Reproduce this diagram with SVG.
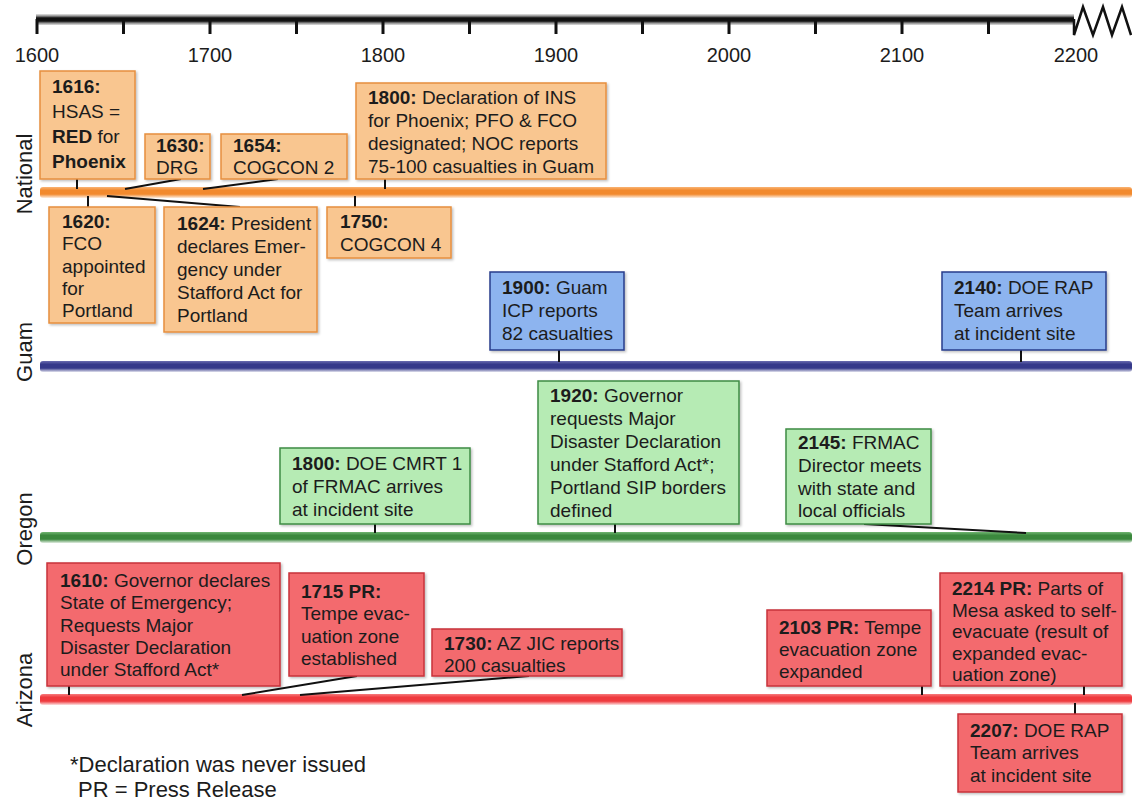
<svg xmlns="http://www.w3.org/2000/svg" width="1132" height="802" viewBox="0 0 1132 802">
<style>
.t{font-family:"Liberation Sans",Arial,Helvetica,sans-serif;font-size:19px;fill:#1c1c1c}
.b{font-weight:bold}
.ax{font-family:"Liberation Sans",Arial,Helvetica,sans-serif;font-size:20px;fill:#1c1c1c;text-anchor:middle}
.lane{font-family:"Liberation Sans",Arial,Helvetica,sans-serif;font-size:22px;fill:#1c1c1c;text-anchor:middle}
.fn{font-family:"Liberation Sans",Arial,Helvetica,sans-serif;font-size:22px;fill:#1c1c1c}
.nat rect{fill:#f9c690;stroke:#e68f3e;stroke-width:1.5}
.gu rect{fill:#8db4ef;stroke:#283c8c;stroke-width:1.5}
.or rect{fill:#b6ebb4;stroke:#3e8c45;stroke-width:1.5}
.az rect{fill:#f36a6e;stroke:#c8323a;stroke-width:1.5}
.box rect{filter:url(#sh)}
.con line{stroke:#111;stroke-width:2}
</style>
<defs>
<filter id="sh" x="-5%" y="-5%" width="115%" height="120%"><feDropShadow dx="1.5" dy="1.5" stdDeviation="1.2" flood-color="#000" flood-opacity="0.25"/></filter>
<linearGradient id="gAx" x1="0" y1="0" x2="0" y2="1"><stop offset="0" stop-color="#999" stop-opacity=".3"/><stop offset=".35" stop-color="#111"/><stop offset=".65" stop-color="#111"/><stop offset="1" stop-color="#888" stop-opacity=".3"/></linearGradient>
<linearGradient id="gN" x1="0" y1="0" x2="0" y2="1"><stop offset="0" stop-color="#f9b374"/><stop offset=".3" stop-color="#f28a2e"/><stop offset=".65" stop-color="#f28a2e"/><stop offset="1" stop-color="#f28a2e" stop-opacity=".15"/></linearGradient>
<linearGradient id="gG" x1="0" y1="0" x2="0" y2="1"><stop offset="0" stop-color="#6a6cb0"/><stop offset=".3" stop-color="#35398a"/><stop offset=".65" stop-color="#35398a"/><stop offset="1" stop-color="#35398a" stop-opacity=".15"/></linearGradient>
<linearGradient id="gO" x1="0" y1="0" x2="0" y2="1"><stop offset="0" stop-color="#72b672"/><stop offset=".3" stop-color="#3b883d"/><stop offset=".65" stop-color="#3b883d"/><stop offset="1" stop-color="#3b883d" stop-opacity=".15"/></linearGradient>
<linearGradient id="gA" x1="0" y1="0" x2="0" y2="1"><stop offset="0" stop-color="#f77a7c"/><stop offset=".3" stop-color="#ef3a3e"/><stop offset=".65" stop-color="#ef3a3e"/><stop offset="1" stop-color="#ef3a3e" stop-opacity=".15"/></linearGradient>
</defs>
<rect width="1132" height="802" fill="#ffffff"/>

<g id="axis">
<rect x="36" y="14" width="1038" height="11" fill="url(#gAx)"/>
<g stroke="#111" stroke-width="3">
<line x1="37" y1="19" x2="37" y2="34"/><line x1="123.5" y1="19" x2="123.5" y2="34"/><line x1="210" y1="19" x2="210" y2="34"/><line x1="296.5" y1="19" x2="296.5" y2="34"/><line x1="383" y1="19" x2="383" y2="34"/><line x1="469.5" y1="19" x2="469.5" y2="34"/><line x1="556" y1="19" x2="556" y2="34"/><line x1="642.5" y1="19" x2="642.5" y2="34"/><line x1="729" y1="19" x2="729" y2="34"/><line x1="815.5" y1="19" x2="815.5" y2="34"/><line x1="902" y1="19" x2="902" y2="34"/><line x1="988.5" y1="19" x2="988.5" y2="34"/>
</g>
<polyline points="1074,19 1074,35 1083,7 1093,35 1103,7 1112,35 1122,7 1131,35" fill="none" stroke="#111" stroke-width="2.5" stroke-linejoin="miter"/>
<text class="ax" x="37" y="62">1600</text><text class="ax" x="210" y="62">1700</text><text class="ax" x="383" y="62">1800</text><text class="ax" x="556" y="62">1900</text><text class="ax" x="729" y="62">2000</text><text class="ax" x="902" y="62">2100</text><text class="ax" x="1076" y="62">2200</text>
</g>

<g id="lanes">
<rect x="40" y="187" width="1092" height="11" rx="3" fill="url(#gN)"/>
<rect x="40" y="361" width="1092" height="11" rx="3" fill="url(#gG)"/>
<rect x="40" y="532" width="1092" height="11" rx="3" fill="url(#gO)"/>
<rect x="40" y="694" width="1092" height="11" rx="3" fill="url(#gA)"/>
<text class="lane" transform="translate(32,174) rotate(-90)">National</text>
<text class="lane" transform="translate(32,352) rotate(-90)">Guam</text>
<text class="lane" transform="translate(32,529) rotate(-90)">Oregon</text>
<text class="lane" transform="translate(32,690) rotate(-90)">Arizona</text>
</g>

<g id="connectors" class="con">
<line x1="77" y1="179" x2="77" y2="189"/>
<line x1="181" y1="179" x2="125" y2="189"/>
<line x1="278" y1="179" x2="203" y2="189"/>
<line x1="385" y1="179" x2="385" y2="189"/>
<line x1="88" y1="196" x2="88" y2="207"/>
<line x1="107" y1="196" x2="240" y2="207"/>
<line x1="355" y1="196" x2="355" y2="207"/>
<line x1="559" y1="350" x2="559" y2="362"/>
<line x1="1021" y1="350" x2="1021" y2="362"/>
<line x1="375" y1="524" x2="375" y2="533"/>
<line x1="615" y1="524" x2="615" y2="533"/>
<line x1="864" y1="524" x2="1026" y2="533"/>
<line x1="69" y1="686" x2="69" y2="695"/>
<line x1="357" y1="676" x2="242" y2="695"/>
<line x1="529" y1="676" x2="300" y2="695"/>
<line x1="922" y1="686" x2="922" y2="695"/>
<line x1="1084" y1="686" x2="1084" y2="695"/>
<line x1="1075" y1="703" x2="1075" y2="714"/>
</g>

<g id="n1616" class="box nat"><rect x="40" y="71" width="95" height="108"/>
<text class="t"><tspan x="52" y="93" class="b">1616:</tspan><tspan x="52" y="118">HSAS =</tspan><tspan x="52" y="143"><tspan class="b">RED</tspan> for</tspan><tspan x="52" y="168" class="b">Phoenix</tspan></text></g>
<g id="n1630" class="box nat"><rect x="145" y="134" width="65" height="45"/>
<text class="t"><tspan x="156" y="152" class="b">1630:</tspan><tspan x="156" y="174">DRG</tspan></text></g>
<g id="n1654" class="box nat"><rect x="221" y="134" width="126" height="45"/>
<text class="t"><tspan x="233" y="152" class="b">1654:</tspan><tspan x="233" y="174">COGCON 2</tspan></text></g>
<g id="n1800" class="box nat"><rect x="356" y="83" width="250" height="96"/>
<text class="t"><tspan x="368" y="104"><tspan class="b">1800:</tspan> Declaration of INS</tspan><tspan x="368" y="127">for Phoenix; PFO &amp; FCO</tspan><tspan x="368" y="150">designated; NOC reports</tspan><tspan x="368" y="173">75-100 casualties in Guam</tspan></text></g>
<g id="n1620" class="box nat"><rect x="49" y="207" width="106" height="116"/>
<text class="t"><tspan x="62" y="228" class="b">1620:</tspan><tspan x="62" y="250">FCO</tspan><tspan x="62" y="273">appointed</tspan><tspan x="62" y="295">for</tspan><tspan x="62" y="317">Portland</tspan></text></g>
<g id="n1624" class="box nat"><rect x="164" y="207" width="153" height="125"/>
<text class="t"><tspan x="177" y="230"><tspan class="b">1624:</tspan> President</tspan><tspan x="177" y="253">declares Emer-</tspan><tspan x="177" y="276">gency under</tspan><tspan x="177" y="299">Stafford Act for</tspan><tspan x="177" y="322">Portland</tspan></text></g>
<g id="n1750" class="box nat"><rect x="327" y="207" width="124" height="51"/>
<text class="t"><tspan x="340" y="228" class="b">1750:</tspan><tspan x="340" y="251">COGCON 4</tspan></text></g>

<g id="g1900" class="box gu"><rect x="490" y="272" width="134" height="78"/>
<text class="t"><tspan x="502" y="294"><tspan class="b">1900:</tspan> Guam</tspan><tspan x="502" y="317">ICP reports</tspan><tspan x="502" y="340">82 casualties</tspan></text></g>
<g id="g2140" class="box gu"><rect x="942" y="272" width="164" height="78"/>
<text class="t"><tspan x="954" y="294"><tspan class="b">2140:</tspan> DOE RAP</tspan><tspan x="954" y="317">Team arrives</tspan><tspan x="954" y="340">at incident site</tspan></text></g>

<g id="o1800" class="box or"><rect x="280" y="448" width="190" height="76"/>
<text class="t"><tspan x="292" y="470"><tspan class="b">1800:</tspan> DOE CMRT 1</tspan><tspan x="292" y="493">of FRMAC arrives</tspan><tspan x="292" y="516">at incident site</tspan></text></g>
<g id="o1920" class="box or"><rect x="538" y="381" width="201" height="143"/>
<text class="t"><tspan x="550" y="402"><tspan class="b">1920:</tspan> Governor</tspan><tspan x="550" y="425">requests Major</tspan><tspan x="550" y="448">Disaster Declaration</tspan><tspan x="550" y="471">under Stafford Act*;</tspan><tspan x="550" y="494">Portland SIP borders</tspan><tspan x="550" y="517">defined</tspan></text></g>
<g id="o2145" class="box or"><rect x="786" y="429" width="145" height="95"/>
<text class="t"><tspan x="798" y="449"><tspan class="b">2145:</tspan> FRMAC</tspan><tspan x="798" y="472">Director meets</tspan><tspan x="798" y="495">with state and</tspan><tspan x="798" y="517">local officials</tspan></text></g>

<g id="a1610" class="box az"><rect x="47" y="563" width="233" height="123"/>
<text class="t"><tspan x="60" y="587"><tspan class="b">1610:</tspan> Governor declares</tspan><tspan x="60" y="609">State of Emergency;</tspan><tspan x="60" y="632">Requests Major</tspan><tspan x="60" y="654">Disaster Declaration</tspan><tspan x="60" y="676">under Stafford Act*</tspan></text></g>
<g id="a1715" class="box az"><rect x="289" y="573" width="135" height="103"/>
<text class="t"><tspan x="301" y="598" class="b">1715 PR:</tspan><tspan x="301" y="620">Tempe evac-</tspan><tspan x="301" y="643">uation zone</tspan><tspan x="301" y="665">established</tspan></text></g>
<g id="a1730" class="box az"><rect x="432" y="629" width="190" height="47"/>
<text class="t"><tspan x="444" y="650"><tspan class="b">1730:</tspan> AZ JIC reports</tspan><tspan x="444" y="672">200 casualties</tspan></text></g>
<g id="a2103" class="box az"><rect x="767" y="610" width="164" height="76"/>
<text class="t"><tspan x="779" y="634"><tspan class="b">2103 PR:</tspan> Tempe</tspan><tspan x="779" y="656">evacuation zone</tspan><tspan x="779" y="678">expanded</tspan></text></g>
<g id="a2214" class="box az"><rect x="940" y="573" width="182" height="113"/>
<text class="t"><tspan x="952" y="595"><tspan class="b">2214 PR:</tspan> Parts of</tspan><tspan x="952" y="617">Mesa asked to self-</tspan><tspan x="952" y="638">evacuate (result of</tspan><tspan x="952" y="660">expanded evac-</tspan><tspan x="952" y="681">uation zone)</tspan></text></g>
<g id="a2207" class="box az"><rect x="958" y="714" width="164" height="78"/>
<text class="t"><tspan x="970" y="737"><tspan class="b">2207:</tspan> DOE RAP</tspan><tspan x="970" y="759">Team arrives</tspan><tspan x="970" y="782">at incident site</tspan></text></g>

<g id="footnote">
<text class="fn" x="70" y="772">*Declaration was never issued</text>
<text class="fn" x="78" y="797">PR = Press Release</text>
</g>
</svg>
